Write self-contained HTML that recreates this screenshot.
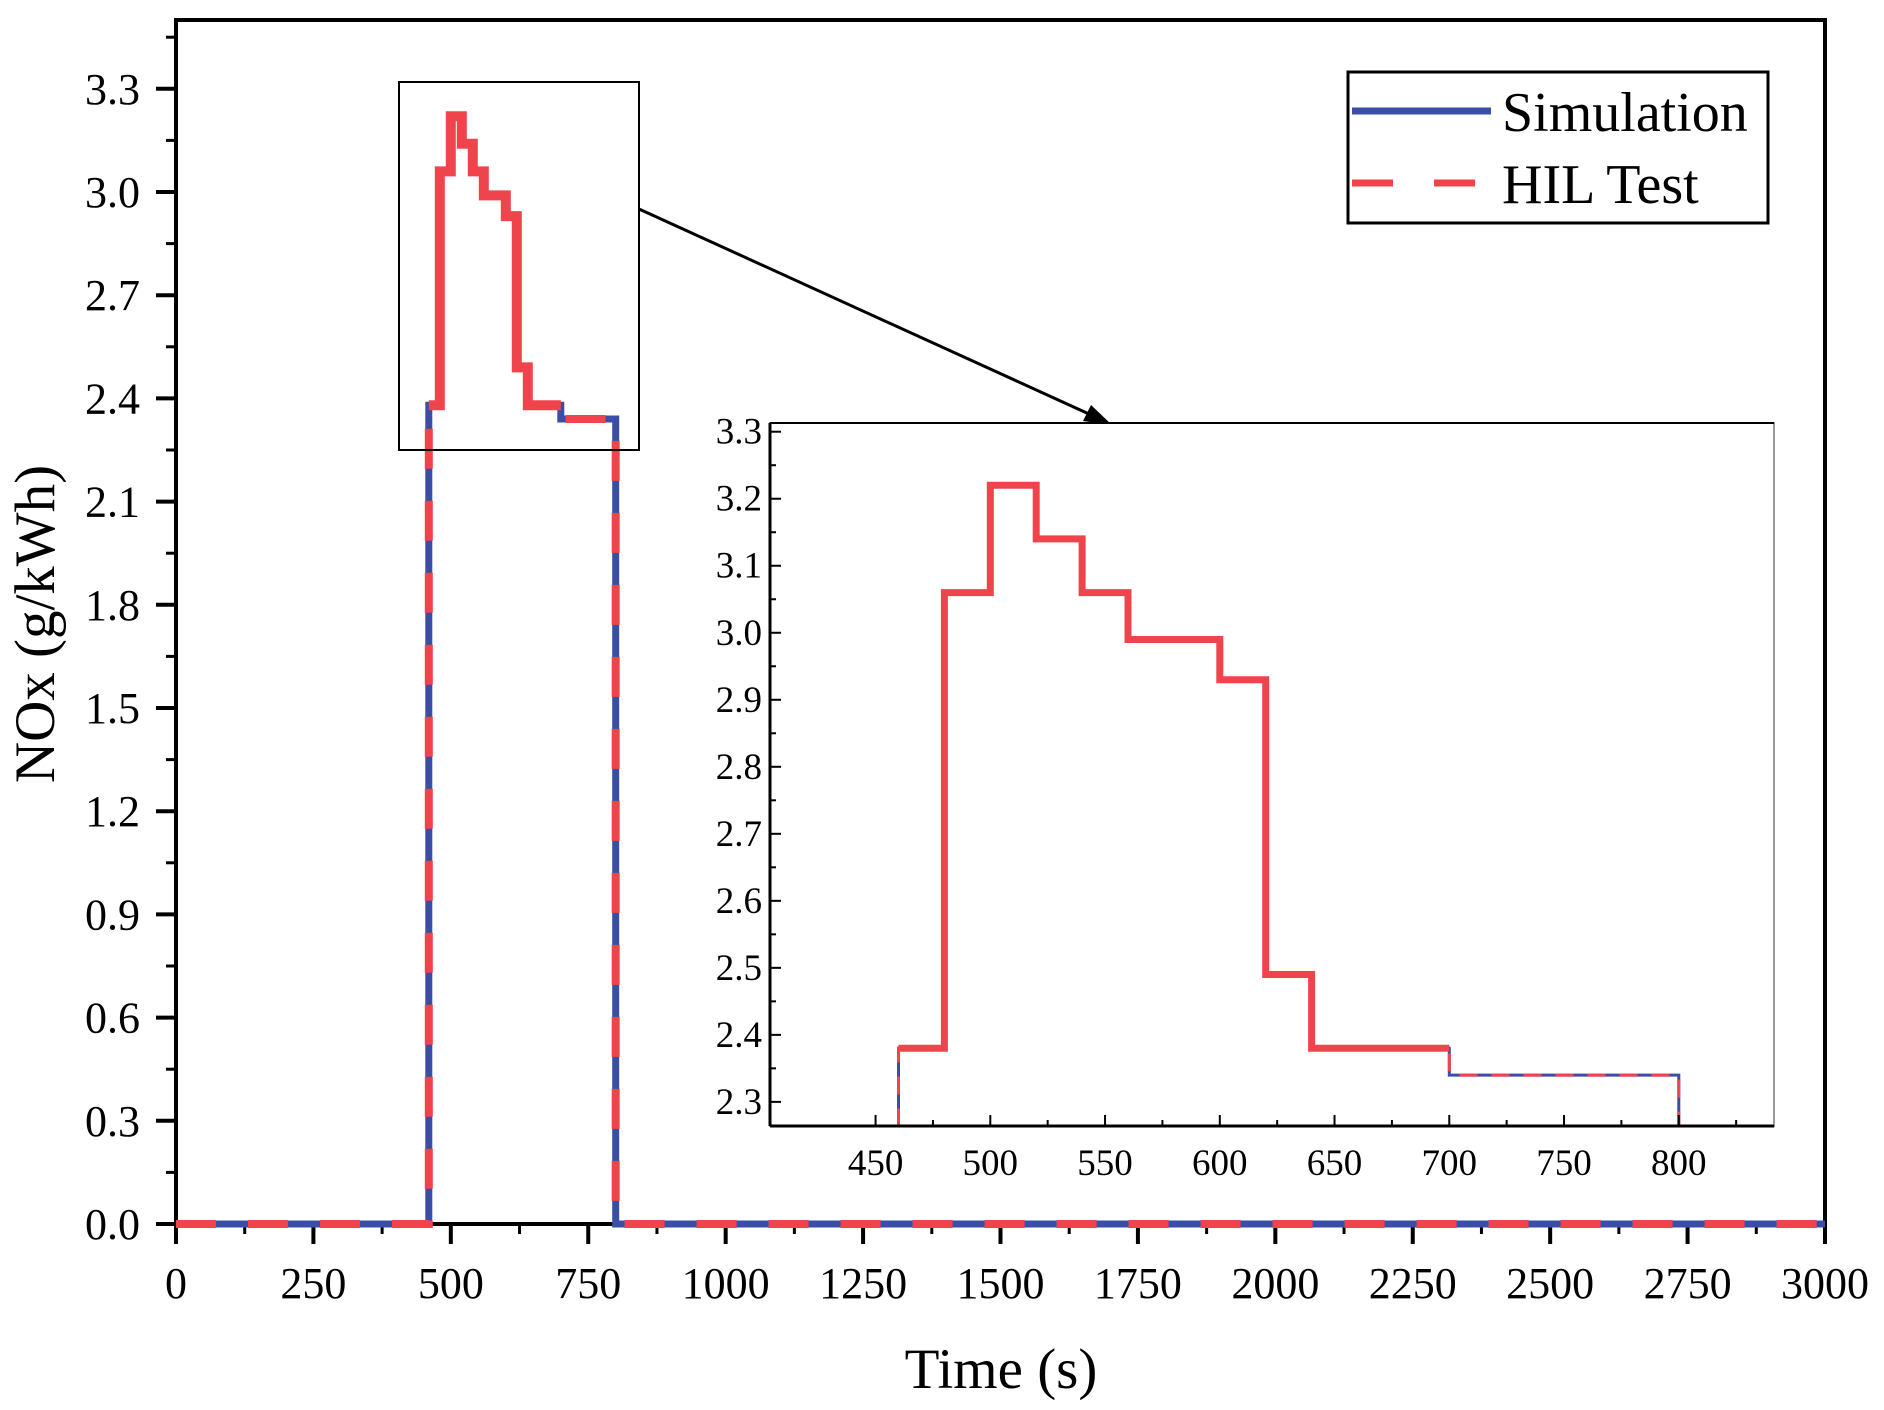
<!DOCTYPE html>
<html><head><meta charset="utf-8"><style>
html,body{margin:0;padding:0;background:#fff}
svg{display:block}
text{font-family:"Liberation Serif",serif;fill:#000}
</style></head><body>
<svg id="chart" width="1884" height="1410">
<g id="main"></g>
<g id="inset"></g>
<g id="legend">
<rect x="1348" y="72" width="420" height="151" fill="#fff" stroke="#000" stroke-width="3"/>
<line x1="1352" y1="111" x2="1491" y2="111" stroke="#3a4ea8" stroke-width="7"/>
<text x="1502" y="131" font-size="56">Simulation</text>
<line x1="1352" y1="183" x2="1491" y2="183" stroke="#f0444c" stroke-width="7" stroke-dasharray="41,41"/>
<text x="1502" y="203" font-size="56">HIL Test</text>
</g>
</svg>
<script>
const stepTimes = [0, 460, 480, 500, 520, 540, 560, 600, 620, 640, 700, 800, 3000];
const simValues = [0, 2.38, 3.06, 3.22, 3.14, 3.06, 2.99, 2.93, 2.49, 2.38, 2.34, 0, 0];
const hilValues = [0, 2.38, 3.06, 3.22, 3.14, 3.06, 2.99, 2.93, 2.49, 2.38, 2.34, 0, 0];
const mainXTicks = [0,250,500,750,1000,1250,1500,1750,2000,2250,2500,2750,3000];
const mainYTicks = [0.0,0.3,0.6,0.9,1.2,1.5,1.8,2.1,2.4,2.7,3.0,3.3];
const insetXTicks = [450,500,550,600,650,700,750,800];
const insetYTicks = [2.3,2.4,2.5,2.6,2.7,2.8,2.9,3.0,3.1,3.2,3.3];

const NS='http://www.w3.org/2000/svg';
function mk(parent,tag,attrs){const e=document.createElementNS(NS,tag);for(const k in attrs)e.setAttribute(k,attrs[k]);parent.appendChild(e);return e;}

const M={l:176,r:1825,t:20,b:1224,x0:0,x1:3000,y0:0,y1:3.5};
const mx=v=>M.l+(v-M.x0)/(M.x1-M.x0)*(M.r-M.l);
const my=v=>M.b-(v-M.y0)/(M.y1-M.y0)*(M.b-M.t);
const I={l:770,r:1774,t:423,b:1126,x0:404,x1:841.5,y0:2.264,y1:3.313};
const ix=v=>I.l+(v-I.x0)/(I.x1-I.x0)*(I.r-I.l);
const iy=v=>I.b-(v-I.y0)/(I.y1-I.y0)*(I.b-I.t);

function stepPath(xs,ys,fx,fy,clip){
  let d='';
  for(let i=0;i<xs.length-1;i++){
    let a=xs[i],b=xs[i+1];
    if(clip){a=Math.max(a,clip[0]);b=Math.min(b,clip[1]);if(a>=b)continue;}
    const y=fy(ys[i]);
    d+=(d?'L':'M')+fx(a).toFixed(1)+','+y.toFixed(1)+'L'+fx(b).toFixed(1)+','+y.toFixed(1);
  }
  return d;
}

const main=document.getElementById('main');
let e=mk(main,'rect',{x:M.l,y:M.t,width:M.r-M.l,height:M.b-M.t,fill:'none',stroke:'#000','stroke-width':4});


mainYTicks.forEach(v=>{
  const y=my(v);
  let t=mk(main,'line',{x1:M.l-20,y1:y,x2:M.l,y2:y,stroke:'#000','stroke-width':4});
  
  
  let l=mk(main,'text',{x:140,y:y+15,'font-size':44,'text-anchor':'end'});
  l.textContent=v.toFixed(1);
  
  
  if(v+0.15<3.5){
    let m=mk(main,'line',{x1:M.l-10,y1:my(v+0.15),x2:M.l,y2:my(v+0.15),stroke:'#000','stroke-width':3});
    
    
  }
});
mainXTicks.forEach(v=>{
  const x=mx(v);
  let t=mk(main,'line',{x1:x,y1:M.b,x2:x,y2:M.b+20,stroke:'#000','stroke-width':4});
  
  
  let l=mk(main,'text',{x:x,y:1298,'font-size':44,'text-anchor':'middle'});
  l.textContent=v;
  
  
  if(v<3000){
    let m=mk(main,'line',{x1:mx(v+125),y1:M.b,x2:mx(v+125),y2:M.b+10,stroke:'#000','stroke-width':3});
    
    
  }
});
e=mk(main,'text',{x:1001,y:1388,'font-size':57,'text-anchor':'middle'});e.textContent='Time (s)';


e=mk(main,'text',{x:0,y:0,'font-size':57,'text-anchor':'middle',transform:'translate(54,624) rotate(-90)'});e.textContent='NOx (g/kWh)';


e=mk(main,'path',{d:stepPath(stepTimes,simValues,mx,my),fill:'none',stroke:'#3a4ea8','stroke-width':7});


e=mk(main,'path',{d:stepPath(stepTimes,hilValues,mx,my),fill:'none',stroke:'#f0444c','stroke-width':8,'stroke-dasharray':'40,32'});


e=mk(main,'path',{d:stepPath(stepTimes.slice(1,11),hilValues.slice(1,11),mx,my),fill:'none',stroke:'#f0444c','stroke-width':10});


e=mk(main,'rect',{x:399,y:82,width:240,height:368,fill:'none',stroke:'#000','stroke-width':2});


e=mk(main,'line',{x1:639,y1:209,x2:1100,y2:419,stroke:'#000','stroke-width':3});


e=mk(main,'polygon',{points:'1112,425 1083,421 1091,405',fill:'#000'});



const ins=document.getElementById('inset');
e=mk(ins,'rect',{x:I.l,y:I.t,width:I.r-I.l,height:I.b-I.t,fill:'#fff',stroke:'#999','stroke-width':2});


e=mk(ins,'line',{x1:I.l,y1:I.t,x2:I.r,y2:I.t,stroke:'#000','stroke-width':2});


const ic=[I.x0,I.x1];
const clampY=v=>iy(Math.max(v,I.y0));
e=mk(ins,'path',{d:stepPath(stepTimes,simValues,ix,clampY,ic),fill:'none',stroke:'#3a4ea8','stroke-width':3});


e=mk(ins,'path',{d:stepPath(stepTimes.slice(1,11),hilValues.slice(1,11),ix,clampY,ic),fill:'none',stroke:'#f0444c','stroke-width':7});


e=mk(ins,'path',{d:stepPath(stepTimes,hilValues,ix,clampY,ic),fill:'none',stroke:'#f0444c','stroke-width':3,'stroke-dasharray':'18,14'});


e=mk(ins,'line',{x1:I.l,y1:I.t,x2:I.l,y2:I.b,stroke:'#000','stroke-width':3});


e=mk(ins,'line',{x1:I.l,y1:I.b,x2:I.r,y2:I.b,stroke:'#000','stroke-width':3});


insetYTicks.forEach(v=>{
  const y=iy(v);
  let t=mk(ins,'line',{x1:I.l,y1:y,x2:I.l+11,y2:y,stroke:'#000','stroke-width':2});
  
  
  let l=mk(ins,'text',{x:762,y:y+12,'font-size':37,'text-anchor':'end'});
  l.textContent=v.toFixed(1);
  
  
  if(v+0.05<I.y1){
    let m=mk(ins,'line',{x1:I.l,y1:iy(v+0.05),x2:I.l+6,y2:iy(v+0.05),stroke:'#000','stroke-width':2});
    
    
  }
});
insetXTicks.forEach(v=>{
  const x=ix(v);
  let t=mk(ins,'line',{x1:x,y1:I.b,x2:x,y2:I.b-11,stroke:'#000','stroke-width':2});
  
  
  let l=mk(ins,'text',{x:x,y:1175,'font-size':37,'text-anchor':'middle'});
  l.textContent=v;
  
  
  if(v+25<I.x1){
    let m=mk(ins,'line',{x1:ix(v+25),y1:I.b,x2:ix(v+25),y2:I.b-6,stroke:'#000','stroke-width':2});
    
    
  }
});
</script>
</body></html>
